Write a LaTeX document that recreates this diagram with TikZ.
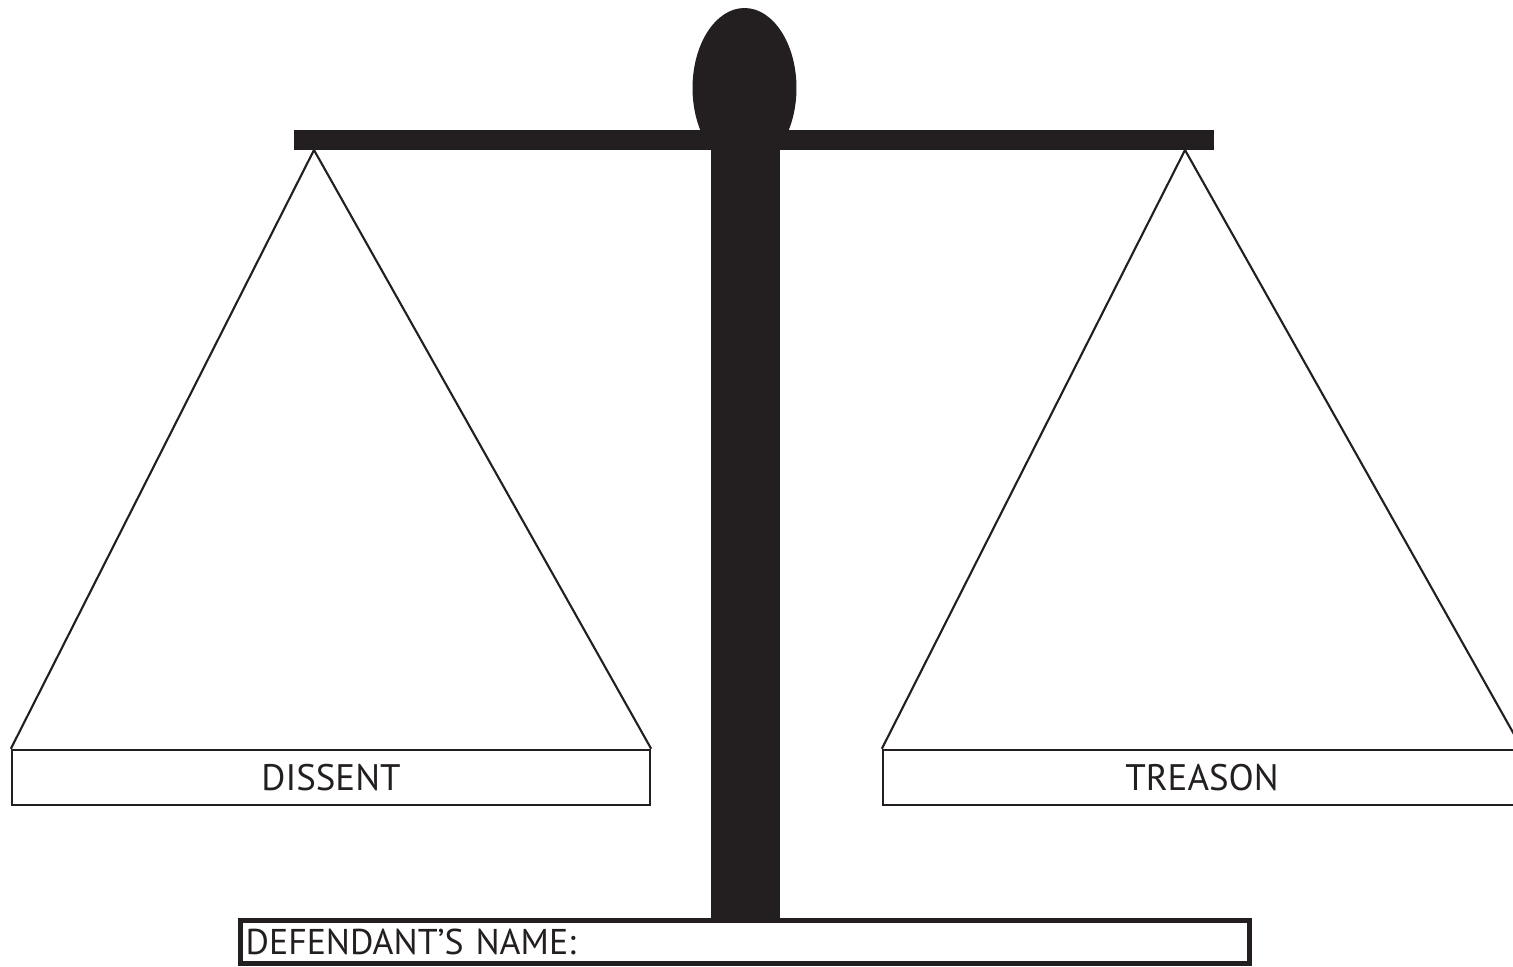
\documentclass[tikz,border=0pt]{standalone}
\usepackage{fontspec}
\setmainfont{PT Sans}
\usetikzlibrary{positioning}
\definecolor{ink}{HTML}{231F20}

\begin{document}
\begin{tikzpicture}[ x=0.02cm, y=-0.02cm, every node/.style={text=ink,
      font=\fontsize{21}{24}\selectfont}, panbox/.style={draw=ink, line
      width=1.4pt, minimum width=12.76cm, minimum height=1.1cm, inner sep=0pt},
      cord/.style={draw=ink, line width=1.2pt, line join=round},
      namebox/.style={draw=ink, line width=2.8pt, text width=19.98cm, inner
      xsep=0.1cm, minimum height=0.86cm, align=left,
      font=\fontsize{20.4}{24}\selectfont} ]

      \useasboundingbox (0,0) rectangle (1513,966);

      % Knob and beam
      \fill[ink] (744.5,88) ellipse[x radius=1.04cm, y radius=1.6cm];
      \fill[ink] (294,130) rectangle (1214,150);

      % Post
      \fill[ink] (711,150) rectangle (780,920);

      % Hanging points
      \coordinate (lefthook) at (314,150);
      \coordinate (righthook) at (1185,150);

      % Pans
      \node[panbox] (dissent) at (331,777.5) {DISSENT};
      \node[panbox] (treason) at (1202,777.5) {TREASON};

      % Cords
      \draw[cord] (dissent.north west) -- (lefthook) -- (dissent.north east);
      \draw[cord] (treason.north west) -- (righthook) -- (treason.north east);

      % Base
      \node[namebox] (name) at (745,942) {DEFENDANT’S NAME:};
    \end{tikzpicture}
\end{document}
